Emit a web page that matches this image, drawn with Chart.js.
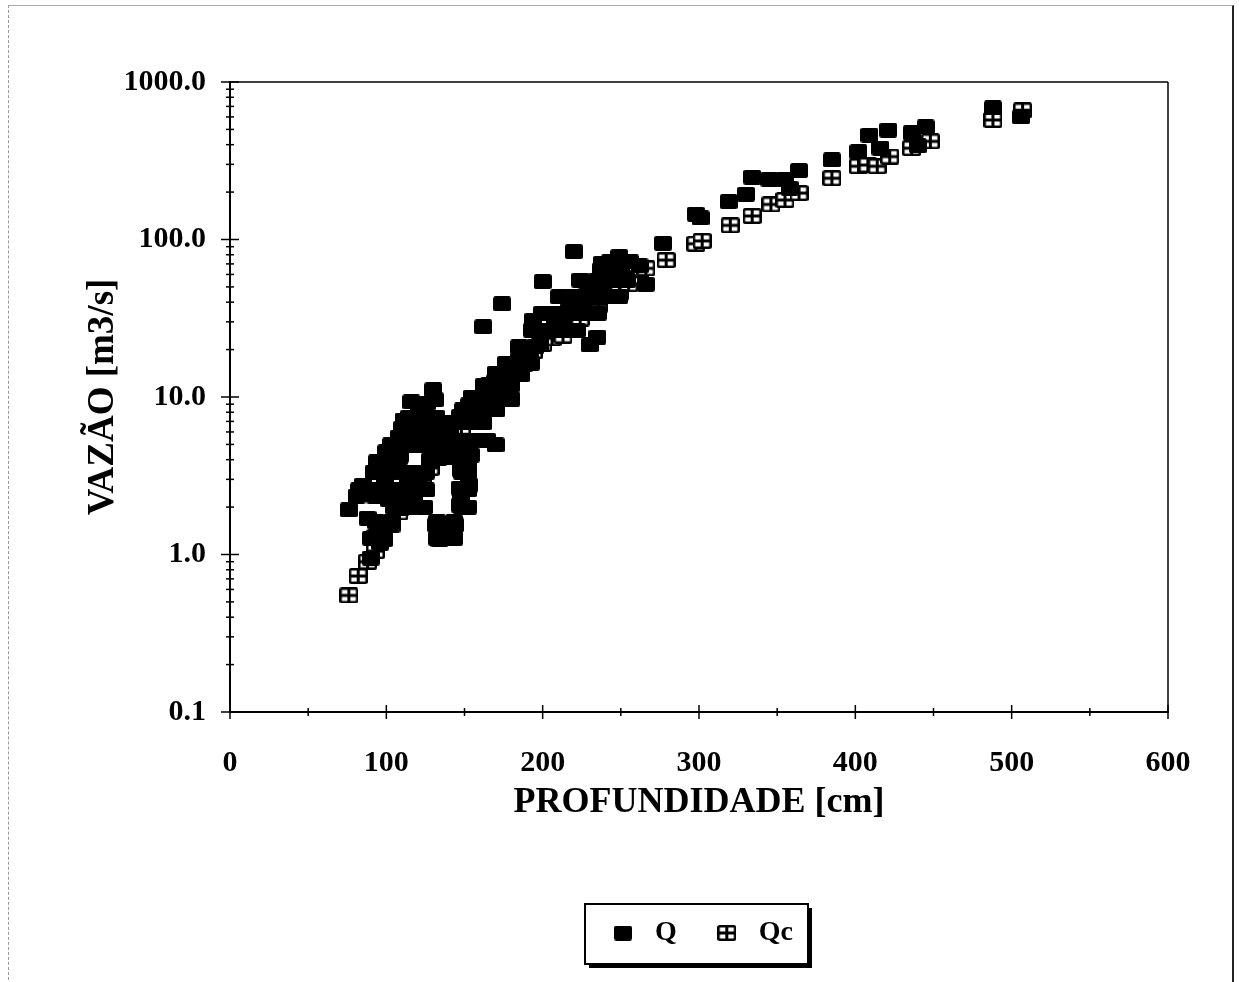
<!DOCTYPE html>
<html><head><meta charset="utf-8">
<script src="https://cdn.jsdelivr.net/npm/chart.js@4.4.1/dist/chart.umd.min.js"></script>
<style>
html,body{margin:0;padding:0;background:#fff;}
#wrap{position:relative;width:1239px;height:982px;overflow:hidden;background:#fff;}
#frame{position:absolute;left:8px;top:5px;width:1226px;height:1000px;border-top:1px solid #aaa;border-left:1px dashed #999;border-right:2px solid #222;box-sizing:border-box;pointer-events:none;}
canvas{position:absolute;left:0;top:0;}
</style></head><body>
<div id="wrap"><canvas id="c" width="1239" height="982"></canvas><div id="frame"></div></div>
<script>
// ---- data ----
const depthQ = [76,81,85,92,94,100,103,108,110,111,116,121,130,131,128,125,93,102,99,106,109,112,114,118,122,124,
  88,90,93,96,99,102,109,115,119,128,134,141,141,147,153,160,166,172,179,185,
  132,134,138,141,147,144,147,148,148,152,153,154,138,146,148,154,158,
  162,170,174,180,186,188,192,194,198,200,205,208,211,213,217,220,222,224,224,228,230,232,235,237,237,240,243,243,247,249,250,254,256,262,266,
  277,298,301,319,330,334,345,355,358,364,385,402,409,416,421,436,440,445,488,506,
  238,234.8,244.4,210.5,220,229.6,239.2,248.8,199.6,209.2,218.8,228.4,235.4,193.2,202.8,212.4,222,184.9,195.1,
  176.6,185.5,192.5,170.2,179.7,186.1,162.5,172.1,179.7,154.8,164.4,174,149,159.3,170.2,142,151.6,161.8,135.6,145.2,154.8,164.4,
  126,124,114.5,124.1,131.8,111.3,120.9,131.8,104.9,114.5,124.1,135,99.8,108.1,128.6,138.2,147.1,152.2,
  93.4,103,112.6,122.2,125.4,148.4,152.2,82.5,92.1,101.7,111.3,120.9,125.4,148.4,152.2,
  104.9,114.5,124.1,148.4,152.2,93.4,103.6,132.4,143.3,90.2,98.5,132.4,143.3];
const flowQ = [1.92,2.35,2.76,3.34,3.87,4.48,4.96,5.57,6.35,7.14,9.3,8.9,11.1,9.6,6.64,5.33,2.35,2.22,2.97,3.44,4.28,2.22,2.9,2.39,3.2,2.57,
  1.7,0.95,1.3,1.18,1.6,1.52,1.95,2.5,2.9,3.98,4.82,5.74,6.6,7.5,8.9,10,11.1,12.7,14.4,17.2,
  1.54,1.24,1.3,1.43,2.06,1.54,2.64,3.44,2.22,3.98,2.76,4.28,4.3,4.64,7.1,8.2,8.9,
  27.9,4.96,39,9.7,13.8,16,17.2,30.8,21.4,54,26.6,30,31.8,28,35.7,83.7,38,55.3,41.3,44,21.4,46.4,24,64,52,56,72,58.7,62,77.8,65.9,55,72,68,52,
  94.6,145,137,174,194,249,242,239,212,274,320,361,460,381,495,475,393,518,684,600,
  70.9,55.3,55.3,43.2,43.2,43.2,43.2,43.2,34.1,34.1,34.1,34.1,34.1,26.6,26.6,26.6,26.6,20.8,20.8,
  16.4,16.4,16.4,14.2,14.2,14.2,11.9,11.9,11.9,10,10,10,8.27,8.27,8.27,6.84,6.84,6.84,5.33,5.33,5.33,5.33,
  9.16,7.46,7.46,7.46,7.46,6.0,6.0,6.0,4.89,4.89,4.89,4.89,4.1,4.1,4.1,4.1,4.1,4.1,
  3.34,3.34,3.34,3.34,3.34,3.34,3.34,2.57,2.57,2.57,2.57,2.57,2.57,2.57,2.57,
  2.0,2.0,2.0,2.0,2.0,1.61,1.61,1.61,1.61,1.27,1.27,1.27,1.27];
const depthQc = [76,82,88,93,98,103,108,113,118,123,128,133,138,143,148,153,158,163,166,170,177,182,188,194,200,206,213,218,224,230,236,243,249,255,262,266,279,
  298,302,320,334,346,355,364,385,402,408,414,422,436,448,488,507];
const flowQc = [0.55,0.73,0.9,1.05,1.25,1.55,1.85,2.2,2.6,3.05,3.55,4.1,4.75,5.5,6.4,7.4,8.5,9.8,11.9,12.4,14.8,15.6,17.4,19.5,21.7,23.6,24.5,28.4,31.5,35,38.5,45,46,52,58,65.6,74,
  94,98,123,141,167,178,197,245,292,297,292,336,380,420,574,660];
const xTickValues = [0,100,200,300,400,500,600];
const xMinorTicks = [50,150,250,350,450,550];
const yTickValues = [0.1,1,10,100,1000];
const yMinorTicks = [0.2,0.3,0.4,0.5,0.6,0.7,0.8,0.9,2,3,4,5,6,7,8,9,20,30,40,50,60,70,80,90,200,300,400,500,600,700,800,900];

// ---- marker images ----
function rr(g,x,y,w,h,r){g.beginPath();g.moveTo(x+r,y);g.lineTo(x+w-r,y);g.quadraticCurveTo(x+w,y,x+w,y+r);g.lineTo(x+w,y+h-r);g.quadraticCurveTo(x+w,y+h,x+w-r,y+h);g.lineTo(x+r,y+h);g.quadraticCurveTo(x,y+h,x,y+h-r);g.lineTo(x,y+r);g.quadraticCurveTo(x,y,x+r,y);g.closePath();}
function makeQ(){const c=document.createElement('canvas');c.width=18;c.height=15;const g=c.getContext('2d');g.fillStyle='#000';rr(g,0,0,18,15,2.5);g.fill();return c;}
function makeQc(){const c=document.createElement('canvas');c.width=19;c.height=16;const g=c.getContext('2d');g.fillStyle='#000';rr(g,0,0,19,16,2.5);g.fill();
  g.fillStyle='#fff';const b=2.5,cr=3,pw=(19-2*b-cr)/2,ph=(16-2*b-cr)/2;
  g.fillRect(b,b,pw,ph);g.fillRect(b+pw+cr,b,pw,ph);g.fillRect(b,b+ph+cr,pw,ph);g.fillRect(b+pw+cr,b+ph+cr,pw,ph);return c;}
const imgQ = makeQ(), imgQc = makeQc();

const FONT = '"Liberation Serif", "Times New Roman", serif';
Chart.defaults.font.family = FONT;
Chart.defaults.font.weight = 'bold';
Chart.defaults.color = '#000';

const framePlugin = {
  id:'framePlugin',
  beforeDraw(chart){
    const lg = chart.legend; if(!lg || !lg.legendHitBoxes || !lg.legendHitBoxes.length) return;
    const hb = lg.legendHitBoxes, ctx = chart.ctx;
    const last = hb[hb.length-1];
    const left = hb[0].left - 20, right = last.left + last.width + 15;
    const cy = hb[0].top + hb[0].height/2;
    const top = cy - 29, bottom = cy + 31;
    ctx.save();
    ctx.fillStyle = '#000';
    ctx.fillRect(left+4, top+4, right-left, bottom-top);
    ctx.fillStyle = '#fff';
    ctx.fillRect(left, top, right-left, bottom-top);
    ctx.strokeStyle = '#000'; ctx.lineWidth = 2;
    ctx.strokeRect(left, top, right-left, bottom-top);
    ctx.restore();
  },
  beforeDatasetsDraw(chart){
    const {ctx, chartArea:a, scales:{x,y}} = chart;
    ctx.save();
    ctx.strokeStyle = '#000';
    const line=(x1,y1,x2,y2)=>{ctx.beginPath();ctx.moveTo(x1,y1);ctx.lineTo(x2,y2);ctx.stroke();};
    ctx.lineWidth = 1.5;
    line(a.left, a.top, a.right, a.top);
    line(a.right, a.top, a.right, a.bottom);
    yTickValues.forEach(v=>{const p=y.getPixelForValue(v); line(a.left-9,p,a.left+9,p);});
    yMinorTicks.forEach(v=>{const p=y.getPixelForValue(v); line(a.left-4,p,a.left+4,p);});
    xTickValues.forEach(v=>{const p=x.getPixelForValue(v); line(p,a.bottom-7,p,a.bottom+7);});
    xMinorTicks.forEach(v=>{const p=x.getPixelForValue(v); line(p,a.bottom-4,p,a.bottom+4);});
    ctx.restore();
  }
};

new Chart(document.getElementById('c').getContext('2d'), {
  type:'scatter',
  data:{datasets:[
    {label:'Q', data: depthQ.map((v,i)=>({x:v, y:flowQ[i]})), pointStyle: imgQ, pointRadius: 9, pointHoverRadius: 9, backgroundColor:'#000', borderColor:'#000'},
    {label:'Qc', data: depthQc.map((v,i)=>({x:v, y:flowQc[i]})), pointStyle: imgQc, pointRadius: 9, pointHoverRadius: 9, backgroundColor:'#fff', borderColor:'#000'}
  ]},
  options:{
    responsive:false, animation:false, devicePixelRatio:1,
    layout:{padding:{top:82,right:71,bottom:25,left:0}},
    plugins:{
      legend:{position:'bottom', fullSize:false,
        labels:{usePointStyle:true, pointStyleWidth:36, padding:32, color:'#000', font:{family:FONT, size:28, weight:'bold'}}},
      tooltip:{enabled:false}
    },
    scales:{
      x:{type:'linear', min:0, max:600,
        afterBuildTicks:s=>{s.ticks = xTickValues.map(v=>({value:v}));},
        afterFit:s=>{s.height = 175;},
        grid:{display:false, drawTicks:false},
        border:{display:true, color:'#000', width:2},
        ticks:{padding:33, color:'#000', autoSkip:false, maxRotation:0, font:{family:FONT, size:30, weight:'bold'}, callback:v=>String(v)},
        title:{display:true, text:'PROFUNDIDADE [cm]', color:'#000', font:{family:FONT, size:36, weight:'bold'}, padding:{top:0, bottom:63}}
      },
      y:{type:'logarithmic', min:0.1, max:1000,
        afterBuildTicks:s=>{s.ticks = yTickValues.map(v=>({value:v}));},
        afterFit:s=>{s.width = 230;},
        grid:{display:false, drawTicks:false},
        border:{display:true, color:'#000', width:2},
        ticks:{padding:24, color:'#000', autoSkip:false, font:{family:FONT, size:30, weight:'bold'}, callback:v=>Number(v).toFixed(1)},
        title:{display:true, text:'VAZÃO [m3/s]', color:'#000', font:{family:FONT, size:37, weight:'bold'}, padding:{top:81, bottom:0}}
      }
    }
  },
  plugins:[framePlugin]
});
</script>
</body></html>
